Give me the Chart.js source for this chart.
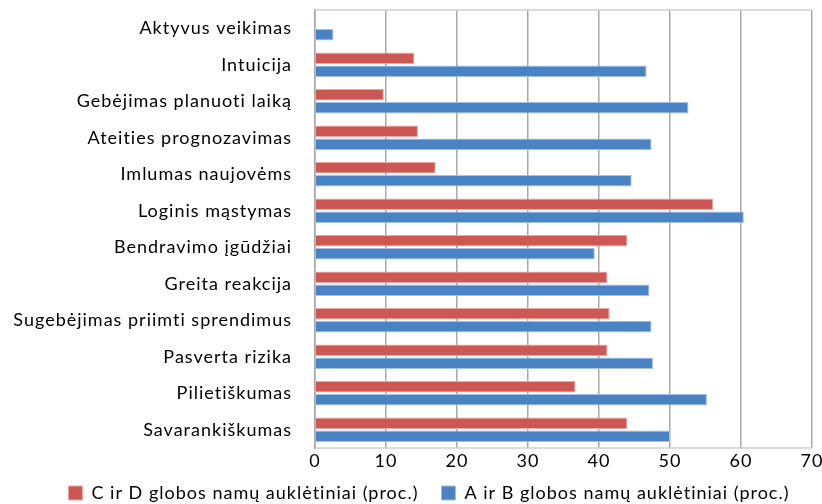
<!DOCTYPE html>
<html>
<head>
<meta charset="utf-8">
<script src="https://cdn.jsdelivr.net/npm/chart.js@4"></script>
<style>
  html, body { margin: 0; padding: 0; background: #fff; }
  #wrap { width: 822px; height: 504px; }
</style>
</head>
<body>
<div id="wrap"><canvas id="chart" width="822" height="504"></canvas></div>
<script>
const categories = [
  'Aktyvus veikimas',
  'Intuicija',
  'Gebėjimas planuoti laiką',
  'Ateities prognozavimas',
  'Imlumas naujovėms',
  'Loginis mąstymas',
  'Bendravimo įgūdžiai',
  'Greita reakcija',
  'Sugebėjimas priimti sprendimus',
  'Pasverta rizika',
  'Pilietiškumas',
  'Savarankiškumas'
];
const cdValues = [0, 14.0, 9.7, 14.5, 17.0, 56.1, 44.0, 41.2, 41.5, 41.2, 36.7, 44.0];
const abValues = [2.6, 46.7, 52.6, 47.4, 44.6, 60.4, 39.4, 47.1, 47.4, 47.6, 55.2, 50.0];
const seriesNames = ['C ir D globos namų auklėtiniai (proc.)', 'A ir B globos namų auklėtiniai (proc.)'];
const xTicks = [0, 10, 20, 30, 40, 50, 60, 70];

const FONT = 'Lato, "Open Sans", sans-serif';

// excel text is spread a bit wider than Lato
const spacing = {
  id: 'spacing',
  beforeUpdate(chart) { chart.ctx.letterSpacing = '1px'; },
  beforeDraw(chart) { chart.ctx.letterSpacing = '1px'; }
};

// legend in the original sits a little right of centre
const legendNudge = {
  id: 'legendNudge',
  afterLayout(chart) {
    chart.legend.left += 23;
    chart.legend.right += 23;
    chart.legend.top -= 15;
  }
};

// light frame line on top of the plot area
const frame = {
  id: 'frame',
  afterDraw(chart) {
    const a = chart.chartArea;
    const ctx = chart.ctx;
    ctx.save();
    ctx.strokeStyle = '#d0d0d0';
    ctx.lineWidth = 1.5;
    ctx.beginPath();
    ctx.moveTo(a.left, a.top);
    ctx.lineTo(a.right, a.top);
    ctx.moveTo(a.left, a.bottom);
    ctx.lineTo(a.right, a.bottom);
    ctx.stroke();
    ctx.restore();
  }
};

new Chart(document.getElementById('chart'), {
  type: 'bar',
  data: {
    labels: categories,
    datasets: [{
      label: seriesNames[0],
      data: cdValues,
      backgroundColor: '#cd5753',
      borderColor: '#e9a9a6',
      borderWidth: 1
    }, {
      label: seriesNames[1],
      data: abValues,
      backgroundColor: '#4a83c3',
      borderColor: '#a3bfe3',
      borderWidth: 1
    }]
  },
  options: {
    indexAxis: 'y',
    responsive: false,
    animation: false,
    categoryPercentage: 0.72,
    barPercentage: 0.88,
    layout: { padding: { top: 10, right: 10, left: 0, bottom: -23 } },
    scales: {
      x: {
        min: 0,
        max: 70,
        afterBuildTicks(scale) {
          scale.ticks = xTicks.map(v => ({ value: v }));
        },
        afterFit(scale) {
          scale.height = 28;
          scale.paddingLeft = 0;
          scale.paddingRight = 0;
        },
        grid: { color: '#a8a8a8', lineWidth: 1.5, drawTicks: false },
        border: { display: false },
        ticks: { color: '#000', padding: 2, font: { family: FONT, size: 18 } }
      },
      y: {
        afterFit(scale) {
          scale.width = 315;
          scale.paddingTop = 0;
          scale.paddingBottom = 0;
        },
        grid: { display: false },
        border: { display: true, color: '#a8a8a8', width: 1.5 },
        ticks: { color: '#000', padding: 15, font: { family: FONT, size: 18 } }
      }
    },
    plugins: {
      legend: {
        position: 'bottom',
        labels: {
          color: '#000',
          boxWidth: 14,
          boxHeight: 14,
          padding: 23,
          font: { family: FONT, size: 18 }
        }
      },
      tooltip: { enabled: false }
    }
  },
  plugins: [spacing, legendNudge, frame]
});
</script>
</body>
</html>
